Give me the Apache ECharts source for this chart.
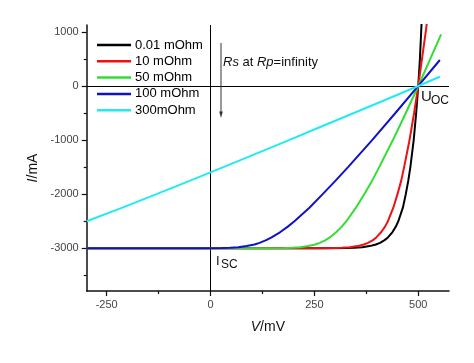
<!DOCTYPE html>
<html><head><meta charset="utf-8">
<script src="https://cdn.jsdelivr.net/npm/echarts@6/dist/echarts.min.js"></script>
<style>html,body{margin:0;padding:0;background:#fff}#c{width:474px;height:363px}</style>
</head><body><div id="c"></div>
<script>
// ---- data (V in mV, I in mA) ----
const seriesNames = ['0.01 mOhm', '10 mOhm', '50 mOhm', '100 mOhm', '300mOhm'];
const curveRs001 = [[-298,-3000],[0,-3000],[200,-3000],[284,-2999],[327,-2995],[346,-2990],[365,-2980],[383,-2960],[398,-2930],[408,-2900],[419,-2850],[427,-2800],[438,-2700],[446,-2600],[452,-2500],[463,-2250],[470,-2000],[476,-1750],[481,-1500],[489,-1000],[495,-500],[500,0],[504,500],[507,1000],[510,1500]];
const curveRs10 = [[-298,-3000],[0,-3000],[200,-3000],[254,-2999],[297,-2995],[316,-2990],[335,-2980],[354,-2960],[369,-2930],[379,-2900],[391,-2850],[399,-2800],[411,-2700],[420,-2600],[427,-2500],[440,-2250],[450,-2000],[459,-1750],[466,-1500],[479,-1000],[490,-500],[500,0],[509,500],[518,1000],[526,1500]];
const curveRs50 = [[-298,-3000],[0,-3000],[100,-3000],[134,-2999],[178,-2995],[197,-2990],[216,-2980],[235,-2960],[252,-2930],[263,-2900],[277,-2850],[287,-2800],[303,-2700],[316,-2600],[327,-2500],[350,-2250],[370,-2000],[389,-1750],[406,-1500],[439,-1000],[470,-500],[500,0],[529,500],[555,955]];
const curveRs100 = [[-298,-3000],[-60,-3000],[-16,-2999],[28,-2995],[47,-2990],[67,-2980],[87,-2960],[106,-2930],[118,-2900],[134,-2850],[147,-2800],[168,-2700],[186,-2600],[202,-2500],[238,-2250],[270,-2000],[301,-1750],[331,-1500],[389,-1000],[445,-500],[500,0],[552,480]];
const curveRs300 = [[-298,-2500],[-212,-2250],[-130,-2000],[-49,-1750],[31,-1500],[110,-1250],[189,-1000],[267,-750],[345,-500],[423,-250],[500,0],[552,170]];
const xMajorTicks = [-250, 0, 250, 500];
const xMinorTicks = [-125, 125, 375];
const yMajorTicks = [1000, 0, -1000, -2000, -3000];
const yMinorTicks = [500, -500, -1500, -2500, -3500];
const xRange = [-298, 574];
const yRange = [-3790, 1127];

// ---- styles ----
const curves = [curveRs001, curveRs10, curveRs50, curveRs100, curveRs300];
const colors = ['#000000', '#ee1111', '#33dd33', '#1111cc', '#22eaf0'];
const FONT = '"Liberation Sans", Arial, sans-serif';
const axisColor = '#111';
const labelColor = '#444';

const chart = echarts.init(document.getElementById('c'), null, {renderer: 'canvas'});

const series = curves.map((d, i) => ({
  type: 'line', name: seriesNames[i], data: d,
  showSymbol: false, symbol: 'none', clip: true, z: 3,
  lineStyle: {width: 2, color: colors[i]}, itemStyle: {color: colors[i]},
  emphasis: {disabled: true}
}));
series[0].markLine = {
  silent: true, symbol: 'none', animation: false, z: 2,
  label: {show: false},
  lineStyle: {color: '#000', width: 1, type: 'solid'},
  data: [{xAxis: 0}, {yAxis: 0}]
};

const baseAxis = (range) => ({type: 'value', min: range[0], max: range[1], splitLine: {show: false}});

chart.setOption({
  animation: false,
  backgroundColor: '#fff',
  grid: {left: 86.7, right: 25, top: 25, bottom: 72, containLabel: false},
  legend: {
    orient: 'vertical', left: 97, top: 38.5, padding: 0, itemWidth: 34, itemHeight: 2.5, itemGap: 3.3,
    icon: 'rect', selectedMode: false, data: seriesNames,
    textStyle: {fontSize: 13, color: '#000', fontFamily: FONT, padding: [0,0,0,-1]}
  },
  xAxis: [
    Object.assign(baseAxis(xRange), {
      position: 'bottom',
      axisLine: {show: true, onZero: false, lineStyle: {color: axisColor, width: 1.5}},
      axisTick: {show: true, length: 5, customValues: xMajorTicks, lineStyle: {color: axisColor, width: 1.2}},
      axisLabel: {customValues: xMajorTicks, color: labelColor, fontSize: 11, fontFamily: FONT, margin: 8, formatter: v => String(v)},
      name: '{i|V}/mV', nameLocation: 'middle', nameGap: 29,
      nameTextStyle: {fontSize: 14, color: '#111', fontFamily: FONT, rich: {i: {fontStyle: 'italic', fontSize: 14, color: '#111', fontFamily: FONT}}}
    }),
    Object.assign(baseAxis(xRange), {
      position: 'bottom',
      axisLine: {show: false, onZero: false},
      axisTick: {show: true, length: 3, customValues: xMinorTicks, lineStyle: {color: axisColor, width: 1.2}},
      axisLabel: {show: false}
    })
  ],
  yAxis: [
    Object.assign(baseAxis(yRange), {
      position: 'left',
      axisLine: {show: true, onZero: false, lineStyle: {color: axisColor, width: 1.5}},
      axisTick: {show: true, length: 5, customValues: yMajorTicks, lineStyle: {color: axisColor, width: 1.2}},
      axisLabel: {customValues: yMajorTicks, color: labelColor, fontSize: 11, fontFamily: FONT, margin: 8, formatter: v => String(v)},
      name: '{i|I}/mA', nameLocation: 'middle', nameGap: 46, nameRotate: 90,
      nameTextStyle: {fontSize: 14, color: '#111', fontFamily: FONT, padding: [0, 20, 0, 0], rich: {i: {fontStyle: 'italic', fontSize: 14, color: '#111', fontFamily: FONT}}}
    }),
    Object.assign(baseAxis(yRange), {
      position: 'left',
      axisLine: {show: false, onZero: false},
      axisTick: {show: true, length: 3, customValues: yMinorTicks, lineStyle: {color: axisColor, width: 1.2}},
      axisLabel: {show: false}
    })
  ],
  series: series,
  graphic: [
    {type: 'text', left: 223, top: 56, z: 10, style: {
      text: '{i|Rs} at {i|Rp}=infinity', fill: '#111', font: '13px ' + FONT,
      rich: {i: {fontStyle: 'italic', fontSize: 13, fontFamily: FONT, fill: '#111'}}}},
    {type: 'line', z: 10, shape: {x1: 221, y1: 43, x2: 221, y2: 114}, style: {stroke: '#333', lineWidth: 1}},
    {type: 'polygon', z: 10, shape: {points: [[219.2, 111.5], [222.8, 111.5], [221, 118]]}, style: {fill: '#333'}},
    {type: 'text', left: 421, top: 89, z: 10, style: {text: 'U', fill: '#111', font: '15px ' + FONT}},
    {type: 'text', left: 431, top: 95, z: 10, style: {text: 'OC', fill: '#111', font: '12px ' + FONT}},
    {type: 'text', left: 216, top: 255, z: 10, style: {text: 'I', fill: '#111', font: '13px ' + FONT}},
    {type: 'text', left: 221, top: 259, z: 10, style: {text: 'SC', fill: '#111', font: '12px ' + FONT}}
  ]
});
</script>
</body></html>
